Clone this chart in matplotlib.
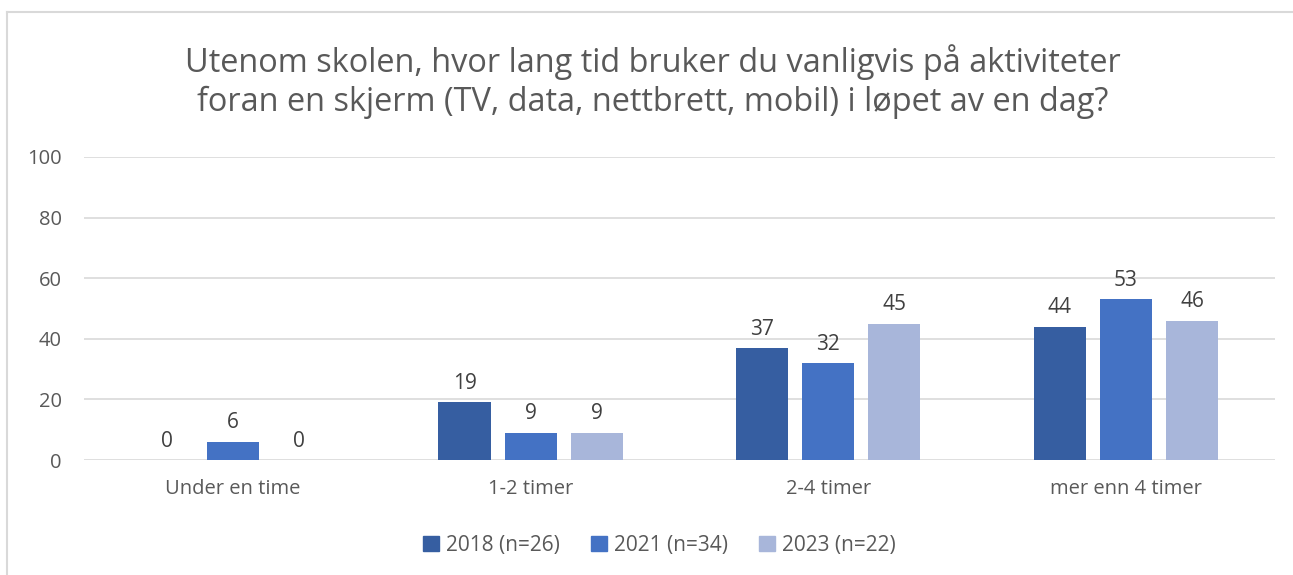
import numpy as np
import matplotlib
matplotlib.use("Agg")
import matplotlib.pyplot as plt
from matplotlib.lines import Line2D

categories = ["Under en time", "1-2 timer", "2-4 timer", "mer enn 4 timer"]
series = ["2018 (n=26)", "2021 (n=34)", "2023 (n=22)"]
v2018 = [0, 19, 37, 44]
v2021 = [6, 9, 32, 53]
v2023 = [0, 9, 45, 46]
colors = ["#365ea1", "#4472c4", "#a8b6da"]
TXT = "#595959"
GRID = "#d9d9d9"

plt.rcParams["font.family"] = ["Open Sans", "DejaVu Sans"]

fig = plt.figure(figsize=(12.93, 5.75), dpi=100)
ax = fig.add_axes([0.065, 0.2, 0.921, 0.527])

x = np.arange(len(categories))
w = 0.175
step = 0.222
for i, (vals, lab, col) in enumerate(zip([v2018, v2021, v2023], series, colors)):
    pos = x + (i - 1) * step
    ax.bar(pos, vals, width=w, color=col, label=lab, zorder=3)
    for p, v in zip(pos, vals):
        ax.annotate(str(v), (p, v), xytext=(0, 6), textcoords="offset points",
                    ha="center", va="bottom", fontsize=15, color="#404040")

ax.set_xlim(-0.5, len(categories) - 0.5)
ax.set_ylim(0, 100)
ax.set_yticks(range(0, 101, 20))
ax.set_xticks(x)
ax.set_xticklabels(categories)
ax.grid(axis="y", color=GRID, lw=1.2, zorder=0)
for s in ax.spines.values():
    s.set_visible(False)
ax.tick_params(length=0, labelsize=14.5, labelcolor=TXT)
ax.tick_params(axis="y", pad=16)
ax.tick_params(axis="x", pad=14)

fig.text(0.505, 0.858, "Utenom skolen, hvor lang tid bruker du vanligvis på aktiviteter\n"
         "foran en skjerm (TV, data, nettbrett, mobil) i løpet av en dag?",
         ha="center", va="center", fontsize=23.4, color=TXT, linespacing=1.25)

handles = [plt.Rectangle((0, 0), 1, 1, color=c) for c in colors]
fig.legend(handles, series, loc="center", bbox_to_anchor=(0.51, 0.052), ncol=3,
           frameon=False, fontsize=15, labelcolor=TXT, handlelength=0.75,
           handleheight=0.75, handletextpad=0.35, columnspacing=1.5)

# chart frame (partially cropped)
fig.add_artist(Line2D([7 / 1293, 7 / 1293], [0, 1 - 12 / 575], color=GRID, lw=1.5,
                      transform=fig.transFigure))
fig.add_artist(Line2D([7 / 1293, 1], [1 - 12 / 575, 1 - 12 / 575], color=GRID, lw=1.5,
                      transform=fig.transFigure))

fig.savefig("out.png", dpi=100)
